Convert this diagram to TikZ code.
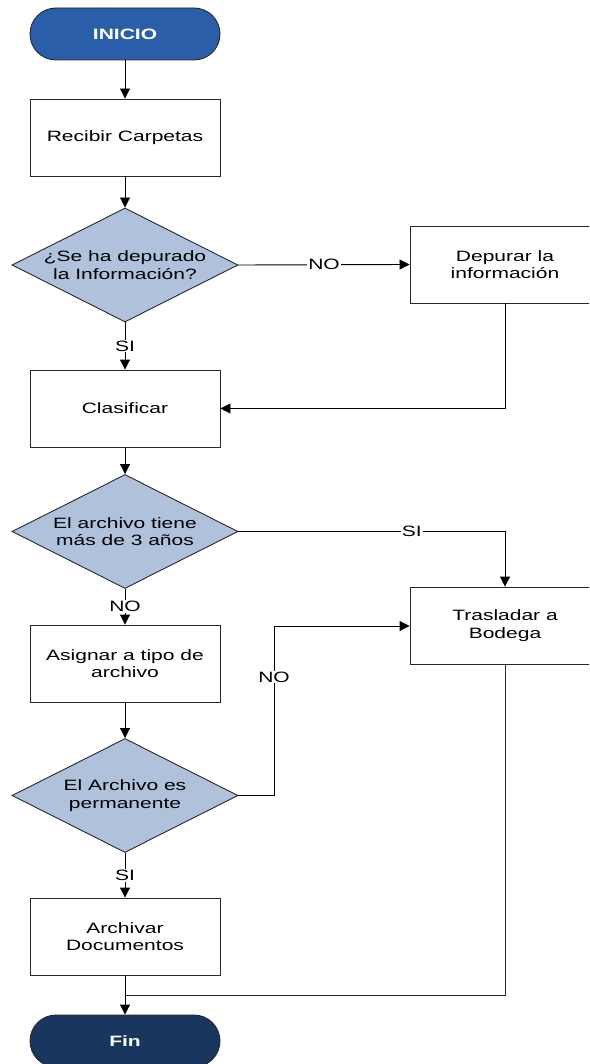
\documentclass[tikz,border=0pt]{standalone}
\usepackage{fontspec}
\setmainfont{Liberation Sans}[FakeStretch=1.4]
\usetikzlibrary{shapes.geometric,arrows.meta}

\definecolor{startblue}{RGB}{42,94,168}
\definecolor{endnavy}{RGB}{25,54,94}
\definecolor{diafill}{RGB}{176,194,219}
\definecolor{edgegray}{RGB}{40,40,40}

\tikzset{
  x=1pt, y=-1pt,
  every node/.style={font=\fontsize{15}{17.5}\selectfont},
  process/.style={draw=edgegray, line width=0.9pt, fill=white, minimum width=190pt,
    minimum height=77pt, align=center, inner sep=0pt},
  terminal/.style={draw=edgegray, line width=0.9pt, rounded corners=26pt, minimum width=190pt,
    minimum height=52pt, text=white, inner sep=0pt,
    font=\fontsize{15}{17.5}\selectfont\bfseries},
  decision/.style={draw=edgegray, line width=0.9pt, fill=diafill, shape=diamond,
    minimum width=226pt, minimum height=114pt, inner sep=0pt},
  dtext/.style={align=center, inner sep=0pt},
  flow/.style={draw=black, line width=0.9pt, -{Triangle[width=10pt,length=10pt]}},
  link/.style={draw=edgegray, line width=0.9pt},
  tag/.style={fill=white, inner sep=1pt}
}

\begin{document}
\begin{tikzpicture}
  \useasboundingbox (0,0) rectangle (589,1064);
  \clip (0,0) rectangle (589,1064);

  % main column
  \node[terminal, fill=startblue] (inicio) at (125,34) {INICIO};
  \node[process] (recibir) at (125,137.5) {Recibir Carpetas};
  \node[decision] (q1) at (125,265) {};
  \node[dtext] (q1t) at (q1.center) {¿Se ha depurado\\la Información?};
  \node[process] (clasificar) at (125,408.5) {Clasificar};
  \node[decision] (q2) at (125,531.5) {};
  \node[dtext] (q2t) at (q2.center) {El archivo tiene\\más de 3 años};
  \node[process] (asignar) at (125,663.5) {Asignar a tipo de\\archivo};
  \node[decision] (q3) at (125,795.5) {};
  \node[dtext] (q3t) at (q3.center) {El Archivo es\\permanente};
  \node[process] (archivar) at (125,936.5) {Archivar\\Documentos};
  \node[terminal, fill=endnavy] (fin) at (125,1041) {Fin};

  % right column
  \node[process] (depurar) at (505,264.5) {Depurar la\\información};
  \node[process] (trasladar) at (505,625.5) {Trasladar a\\Bodega};

  % bend points
  \coordinate (b1) at (505,408.5);
  \coordinate (b2) at (505,531.5);
  \coordinate (b3) at (274,795.5);
  \coordinate (b4) at (274,626);
  \coordinate (b5) at (505,995);
  \coordinate (b6) at (125,995);

  % connectors
  \draw[flow] (inicio) -- (recibir);
  \draw[flow] (recibir) -- (q1);
  \draw[flow] (q1.east) -- node[tag] {NO} (depurar.west);
  \draw[flow] (q1.south) -- node[tag] {SI} (clasificar.north);
  \draw[flow] (depurar.south) -- (b1) -- (clasificar.east);
  \draw[flow] (clasificar) -- (q2);
  \draw[flow] (q2.east) -- node[tag, pos=0.65] {SI} (b2) -- (trasladar.north);
  \draw[flow] (q2.south) -- node[tag] {NO} (asignar.north);
  \draw[flow] (asignar) -- (q3);
  \draw[flow] (q3.east) -- (b3) -- node[tag, pos=0.7] {NO} (b4) -- (trasladar.west |- b4);
  \draw[flow] (q3.south) -- node[tag] {SI} (archivar.north);
  \draw[flow] (archivar.south) -- (fin.north);
  \draw[link] (trasladar.south) -- (b5) -- (b6);
\end{tikzpicture}
\end{document}
